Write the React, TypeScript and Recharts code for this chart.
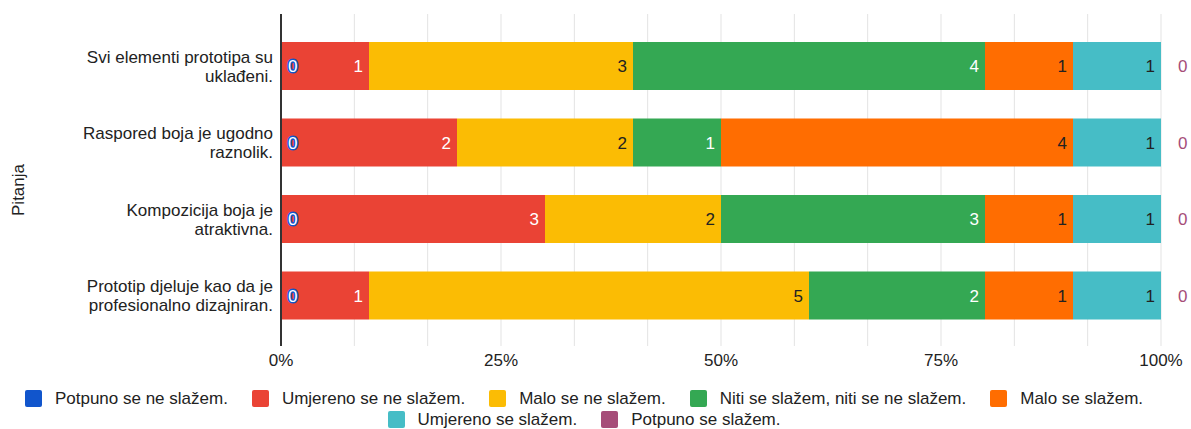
import React from "react";
import { BarChart, Bar, XAxis, YAxis, CartesianGrid, LabelList, Legend } from "recharts";

const FONT_FAMILY = "'Liberation Sans', Arial, sans-serif";

const categories = [
  "Svi elementi prototipa su uklađeni.",
  "Raspored boja je ugodno raznolik.",
  "Kompozicija boja je atraktivna.",
  "Prototip djeluje kao da je profesionalno dizajniran.",
];

const seriesNames = [
  "Potpuno se ne slažem.",
  "Umjereno se ne slažem.",
  "Malo se ne slažem.",
  "Niti se slažem, niti se ne slažem.",
  "Malo se slažem.",
  "Umjereno se slažem.",
  "Potpuno se slažem.",
];

const seriesColors = ["#1155cc", "#ea4335", "#fbbc04", "#34a853", "#ff6d01", "#46bdc6", "#a64d79"];
const labelColors = ["#ffffff", "#ffffff", "#222222", "#ffffff", "#222222", "#222222", "#a64d79"];

// odgovori po pitanju
const potpunoNe = [0, 0, 0, 0];
const umjerenoNe = [1, 2, 3, 1];
const maloNe = [3, 2, 2, 5];
const niti = [4, 1, 3, 2];
const maloDa = [1, 4, 1, 1];
const umjerenoDa = [1, 1, 1, 1];
const potpunoDa = [0, 0, 0, 0];

const seriesValues = [potpunoNe, umjerenoNe, maloNe, niti, maloDa, umjerenoDa, potpunoDa];

const xTicks = [0, 1 / 12, 2 / 12, 3 / 12, 4 / 12, 5 / 12, 6 / 12, 7 / 12, 8 / 12, 9 / 12, 10 / 12, 11 / 12, 1];
const xTickLabels = ["0%", "25%", "50%", "75%", "100%"];

const data = categories.map((name, i) => {
  const row: Record<string, string | number> = { name };
  seriesValues.forEach((vals, s) => {
    row[`s${s}`] = vals[i];
  });
  return row;
});

let measureCtx: CanvasRenderingContext2D | null = null;
function wrapText(text: string, maxWidth: number, font: string): string[] {
  if (!measureCtx) measureCtx = document.createElement("canvas").getContext("2d");
  const ctx = measureCtx!;
  ctx.font = font;
  const lines: string[] = [];
  let cur = "";
  for (const w of text.split(" ")) {
    const t = cur ? cur + " " + w : w;
    if (cur && ctx.measureText(t).width > maxWidth) {
      lines.push(cur);
      cur = w;
    } else {
      cur = t;
    }
  }
  if (cur) lines.push(cur);
  return lines;
}

const CategoryTick = (props: any) => {
  const { x, y, payload } = props;
  const lines = wrapText(payload.value, 210, `17px ${FONT_FAMILY}`);
  const lh = 19;
  const start = -((lines.length - 1) * lh) / 2 + 6;
  return (
    <text x={x} y={y} textAnchor="end" fontSize={17} fill="#222" fontFamily={FONT_FAMILY}>
      {lines.map((l, i) => (
        <tspan key={i} x={x} dy={i === 0 ? start : lh}>
          {l}
        </tspan>
      ))}
    </text>
  );
};

const common = { dy: "0.355em", fontSize: 17, fontFamily: FONT_FAMILY };

function makeLabel(si: number) {
  return (props: any) => {
    const x = Number(props.x);
    const y = Number(props.y);
    const width = Number(props.width);
    const height = Number(props.height);
    return (
      <text {...common} y={y + height / 2} x={x + width - 6} textAnchor="end" fill={labelColors[si]}>
        {props.value}
      </text>
    );
  };
}

// nulte vrijednosti (prvi i zadnji niz) crtaju se uz susjedni stupac
const firstZeroLabel = (props: any) => {
  const v = potpunoNe[props.index];
  if (v !== 0) return null;
  return (
    <text
      {...common}
      x={Number(props.x) + 7}
      y={Number(props.y) + Number(props.height) / 2}
      fill="#fff"
      stroke={seriesColors[0]}
      strokeWidth={3}
      paintOrder="stroke"
    >
      {v}
    </text>
  );
};

const lastZeroLabel = (props: any) => {
  const v = potpunoDa[props.index];
  if (v !== 0) return null;
  return (
    <text
      {...common}
      x={Number(props.x) + Number(props.width) + 17}
      y={Number(props.y) + Number(props.height) / 2}
      fill={labelColors[6]}
    >
      {v}
    </text>
  );
};

const renderLegend = () => {
  const rows = [seriesNames.slice(0, 5), seriesNames.slice(5)];
  return (
    <div style={{ display: "flex", flexDirection: "column", alignItems: "center", fontFamily: FONT_FAMILY }}>
      {rows.map((row, ri) => (
        <div key={ri} style={{ display: "flex", gap: 24, height: 21, alignItems: "center" }}>
          {row.map((name) => {
            const idx = seriesNames.indexOf(name);
            return (
              <div key={name} style={{ display: "flex", alignItems: "center", gap: 13 }}>
                <span
                  style={{
                    display: "inline-block",
                    width: 17,
                    height: 17,
                    borderRadius: 2,
                    background: seriesColors[idx],
                  }}
                />
                <span style={{ fontSize: 17, color: "#222", whiteSpace: "nowrap" }}>{name}</span>
              </div>
            );
          })}
        </div>
      ))}
    </div>
  );
};

const PitanjaLabel = (props: any) => {
  const vb = props.viewBox || { y: 14, height: 332 };
  const cx = 18;
  const cy = vb.y + vb.height / 2 + 10;
  return (
    <text
      x={cx}
      y={cy}
      transform={`rotate(-90, ${cx}, ${cy})`}
      textAnchor="middle"
      dy="0.355em"
      fontSize={17}
      fill="#222"
      fontFamily={FONT_FAMILY}
    >
      Pitanja
    </text>
  );
};

export default function App() {
  return (
    <div style={{ position: "absolute", left: 0, top: 0, width: 1191, height: 429, background: "#fff", fontFamily: FONT_FAMILY }}>
      <BarChart
        width={1191}
        height={429}
        data={data}
        layout="vertical"
        stackOffset="expand"
        margin={{ top: 14, right: 30, bottom: 0, left: 0 }}
      >
        <CartesianGrid horizontal={false} stroke="#e3e3e3" strokeWidth={1} />
        <XAxis
          type="number"
          domain={[0, 1]}
          ticks={xTicks}
          interval={0}
          tickFormatter={(_v: number, i: number) => (i % 3 === 0 ? xTickLabels[i / 3] : "")}
          tick={{ fontSize: 17, fill: "#222", fontFamily: FONT_FAMILY }}
          tickLine={false}
          axisLine={false}
          height={83}
        />
        <YAxis
          type="category"
          dataKey="name"
          width={281}
          tick={<CategoryTick />}
          tickLine={false}
          axisLine={{ stroke: "#333", strokeWidth: 2 }}
          padding={{ top: 14, bottom: 12 }}
          label={PitanjaLabel}
        />
        <Legend
          content={renderLegend}
          layout="horizontal"
          verticalAlign="middle"
          align="center"
          wrapperStyle={{ top: 388, left: 0, width: 1168 }}
        />
        {seriesNames.map((name, si) => (
          <Bar
            key={name}
            dataKey={`s${si}`}
            name={name}
            stackId="a"
            fill={seriesColors[si]}
            barSize={48}
            isAnimationActive={false}
          >
            <LabelList dataKey={`s${si}`} content={makeLabel(si)} />
            {si === 1 && <LabelList dataKey="s0" content={firstZeroLabel} />}
            {si === 5 && <LabelList dataKey="s6" content={lastZeroLabel} />}
          </Bar>
        ))}
      </BarChart>
    </div>
  );
}
